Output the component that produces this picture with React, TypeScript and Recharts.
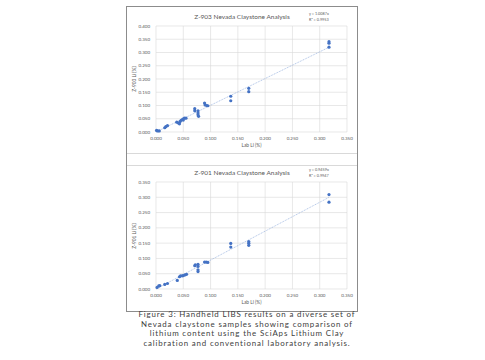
import React from 'react';
import { ScatterChart, Scatter, XAxis, YAxis, CartesianGrid, ReferenceLine } from 'recharts';

// Z-903 vs lab
const labLi903 = [0.001, 0.003, 0.006, 0.016, 0.018, 0.021, 0.038, 0.041, 0.043, 0.044, 0.046, 0.049, 0.050, 0.052, 0.055, 0.071, 0.071, 0.077, 0.077, 0.077, 0.078, 0.089, 0.090, 0.093, 0.095, 0.137, 0.137, 0.170, 0.170, 0.317, 0.317, 0.317];
const z903Li = [0.006, 0.004, 0.004, 0.016, 0.020, 0.024, 0.037, 0.034, 0.031, 0.039, 0.044, 0.049, 0.045, 0.052, 0.052, 0.088, 0.080, 0.080, 0.072, 0.065, 0.059, 0.109, 0.102, 0.100, 0.099, 0.135, 0.118, 0.165, 0.152, 0.341, 0.335, 0.320];

// Z-901 vs lab
const labLi901 = [0.002, 0.005, 0.007, 0.016, 0.021, 0.039, 0.043, 0.045, 0.048, 0.050, 0.053, 0.056, 0.071, 0.072, 0.077, 0.077, 0.077, 0.077, 0.089, 0.092, 0.095, 0.137, 0.137, 0.170, 0.170, 0.170, 0.317, 0.317];
const z901Li = [0.005, 0.010, 0.011, 0.015, 0.018, 0.028, 0.040, 0.043, 0.043, 0.044, 0.046, 0.048, 0.076, 0.079, 0.081, 0.074, 0.063, 0.057, 0.088, 0.088, 0.087, 0.149, 0.137, 0.155, 0.150, 0.143, 0.309, 0.284];

const xTicks = [0, 0.05, 0.1, 0.15, 0.2, 0.25, 0.3, 0.35];
const yTicks903 = [0, 0.05, 0.1, 0.15, 0.2, 0.25, 0.3, 0.35, 0.4];
const yTicks901 = [0, 0.05, 0.1, 0.15, 0.2, 0.25, 0.3, 0.35];

const slope903 = 1.0087;
const slope901 = 0.9459;

const captionLines = [
  'Figure 3: Handheld LIBS results on a diverse set of',
  'Nevada claystone samples showing comparison of',
  'lithium content using the SciAps Lithium Clay',
  'calibration and conventional laboratory analysis.',
];

const FONT = 'Lato, "Open Sans", sans-serif';
const GREY = '#595959';
const BLUE = '#4472c4';

interface ChartProps {
  top: number;
  height: number;
  marginTop: number;
  xs: number[];
  ys: number[];
  yTicks: number[];
  slope: number;
  title: string;
  eq: string;
  r2: string;
  yLabel: string;
}

const Dot = (p: any) => <circle cx={p.cx} cy={p.cy} r={1.6} fill={BLUE} />;

const ClayChart: React.FC<ChartProps> = ({ top, height, marginTop, xs, ys, yTicks, slope, title, eq, r2, yLabel }) => {
  const data = xs.map((x, i) => ({ x, y: ys[i] }));
  const xMax = Math.max(...xs);
  const yMax = yTicks[yTicks.length - 1];
  const tickStyle = { fontSize: 4.5, fill: GREY, fontFamily: FONT };
  return (
    <div style={{ position: 'absolute', left: 127, top, width: 230, height }}>
      <ScatterChart width={230} height={height} margin={{ top: marginTop, right: 10, bottom: 9, left: 7 }}>
        <CartesianGrid stroke="#d9d9d9" strokeWidth={0.6} />
        <XAxis type="number" dataKey="x" domain={[0, 0.35]} ticks={xTicks} tickFormatter={(v: number) => v.toFixed(3)}
          axisLine={false} tickLine={false} tickSize={3} tick={tickStyle} height={12} interval={0} />
        <YAxis type="number" dataKey="y" domain={[0, yMax]} ticks={yTicks} tickFormatter={(v: number) => v.toFixed(3)}
          axisLine={false} tickLine={false} tickSize={4} tick={tickStyle} width={22} interval={0} />
        <ReferenceLine segment={[{ x: 0, y: 0 }, { x: xMax, y: slope * xMax }]} stroke="#8eaadb" strokeWidth={0.7} strokeDasharray="1 0.8" />
        <Scatter data={data} shape={Dot} isAnimationActive={false} />
      </ScatterChart>
      <div style={{ position: 'absolute', left: 0, width: 230, top: marginTop - 13, textAlign: 'center', fontFamily: FONT, fontSize: 6.5, color: GREY, lineHeight: '7px' }}>{title}</div>
      <div style={{ position: 'absolute', left: 182, top: marginTop - 15, fontFamily: FONT, fontSize: 3.8, color: GREY, lineHeight: '5.5px' }}>
        <div>{eq}</div>
        <div>{r2}</div>
      </div>
      <div style={{ position: 'absolute', left: 29, width: 191, top: height - 11, textAlign: 'center', fontFamily: FONT, fontSize: 4.8, color: GREY, lineHeight: '6px' }}>Lab Li (%)</div>
      <div style={{ position: 'absolute', left: 7 - 30, top: marginTop + (height - marginTop - 21) / 2 - 3, width: 60, textAlign: 'center', fontFamily: FONT, fontSize: 4.8, color: GREY, lineHeight: '6px', transform: 'rotate(-90deg)' }}>{yLabel}</div>
    </div>
  );
};

export default function App() {
  return (
    <div style={{ position: 'absolute', left: 0, top: 0, width: 485, height: 360, background: '#fff' }}>
      <div style={{ position: 'absolute', left: 126, top: 6, width: 230, height: 304, border: '1px solid #8c8c8c' }} />
      <div style={{ position: 'absolute', left: 127, top: 153, width: 230, height: 0, borderTop: '1px solid #d9d9d9' }} />
      <div style={{ position: 'absolute', left: 127, top: 165, width: 230, height: 0, borderTop: '1px solid #d9d9d9' }} />
      <ClayChart top={7} height={146} marginTop={19} xs={labLi903} ys={z903Li} yTicks={yTicks903} slope={slope903}
        title="Z-903 Nevada Claystone Analysis" eq="y = 1.0087x" r2="R² = 0.9953" yLabel="Z-903 Li (%)" />
      <ClayChart top={165} height={145} marginTop={17} xs={labLi901} ys={z901Li} yTicks={yTicks901} slope={slope901}
        title="Z-901 Nevada Claystone Analysis" eq="y = 0.9459x" r2="R² = 0.9947" yLabel="Z-901 Li (%)" />
      <div style={{ position: 'absolute', left: 117, width: 260, top: 310, textAlign: 'center', fontFamily: 'Lato, sans-serif', fontSize: 7.9, letterSpacing: 0.85, color: '#404040', lineHeight: '9.5px' }}>
        {captionLines.map(l => <div key={l}>{l}</div>)}
      </div>
    </div>
  );
}
